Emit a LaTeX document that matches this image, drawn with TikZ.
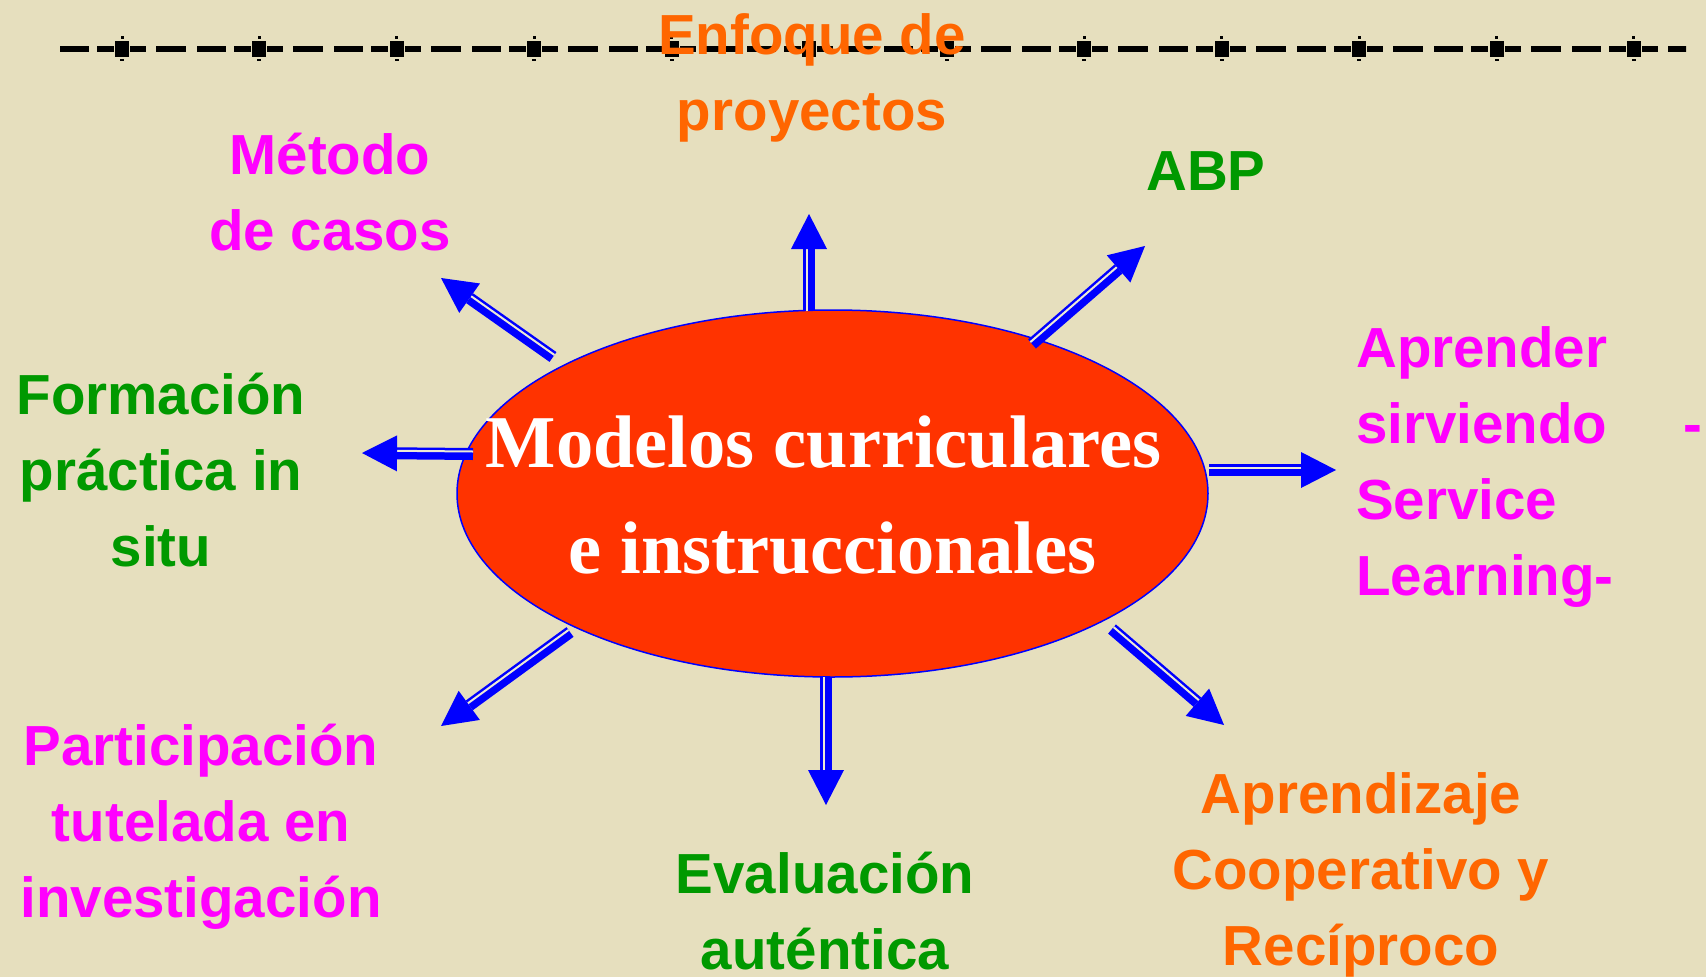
\documentclass[tikz,border=0pt]{standalone}
\usepackage{fontspec}
\setmainfont{Liberation Serif}
\setsansfont{Liberation Sans}
\usetikzlibrary{shapes.geometric,calc}
\definecolor{bgc}{RGB}{230,223,190}
\definecolor{ellred}{RGB}{255,51,0}
\definecolor{arrblue}{RGB}{0,0,255}
\definecolor{stripecol}{RGB}{236,233,214}
\definecolor{lblmag}{RGB}{255,0,255}
\definecolor{lblgreen}{RGB}{0,153,0}
\definecolor{lblorange}{RGB}{255,102,0}
\tikzset{
  shaft/.style={draw=arrblue, line width=12pt},
  shaftgap/.style={draw=stripecol, line width=2pt},
  lbl/.style={font=\sffamily\bfseries\fontsize{56.5}{76}\selectfont, inner sep=0pt, anchor=base},
  core/.style={ellipse, draw=arrblue, line width=1.5pt, fill=ellred,
    minimum width=751pt, minimum height=367pt, inner sep=0pt},
  coretext/.style={text=white, inner sep=0pt,
    font=\rmfamily\bfseries\fontsize{74.5}{106}\selectfont, align=center},
  railbar/.style={fill=black}
}
% #1 start coordinate, #2 tip coordinate, #3 side of the thin line (90 or 270)
\newcommand\dblarrow[3]{%
  \coordinate (hb) at ($(#2)!35pt!(#1)$);
  \draw[shaft] (#1) -- (hb);
  \draw[shaftgap] ($(#1)!2.5pt!#3:(hb)$) -- ($(hb)!2.5pt!-#3:(#1)$);
  \fill[arrblue] (#2) -- ($(hb)!18pt!90:(#2)$) -- ($(hb)!18pt!-90:(#2)$) -- cycle;
}
\begin{document}
\begin{tikzpicture}[x=1pt,y=-1pt]
\useasboundingbox (0,0) rectangle (1706,977);
\fill[bgc] (0,0) rectangle (1706,977);

% top decorative rail line
\begin{scope}
  \clip (57,30) rectangle (1686,70);
  \foreach \k in {-1,...,12} {
    \pgfmathsetmacro\c{122+137.45*\k}
    \fill[railbar] (\c-7,41) rectangle (\c+7,57);
    \fill[railbar] (\c-1.5,36) rectangle (\c+1.5,38.5);
    \fill[railbar] (\c-2,58.5) rectangle (\c+2,60.5);
    \fill[railbar] (\c+8,46) rectangle (\c+24,52);
    \fill[railbar] (\c+34,46) rectangle (\c+64,52);
    \fill[railbar] (\c+75,46) rectangle (\c+104,52);
    \fill[railbar] (\c+112,46) rectangle (\c+129,52);
  }
\end{scope}

% central ellipse and its text
\node[core] (centro) at (832.5,493.5) {};
\node[coretext] (titulo) at (832.5,495) {Modelos curriculares\rule{18pt}{0pt}\\e instruccionales};

% labels
\node[lbl, text=lblorange] (enfoque) at (812,54) {\begin{tabular}[t]{@{}c@{}}Enfoque de\\proyectos\end{tabular}};
\node[lbl, text=lblmag] (metodo) at (330,174) {\begin{tabular}[t]{@{}c@{}}Método\\de casos\end{tabular}};
\node[lbl, text=lblgreen] (abp) at (1206,190) {ABP};
\node[lbl, text=lblgreen] (formacion) at (161,414) {\begin{tabular}[t]{@{}c@{}}Formación\\práctica in\\situ\end{tabular}};
\node[lbl, text=lblmag, anchor=base west] (aprender) at (1356,367) {\begin{tabular}[t]{@{}l@{}}Aprender\\sirviendo\rlap{\hspace{76pt}-}\\Service\\Learning-\end{tabular}};
\node[lbl, text=lblmag] (participacion) at (201,765) {\begin{tabular}[t]{@{}c@{}}Participación\\tutelada en\\investigación\end{tabular}};
\node[lbl, text=lblgreen] (evaluacion) at (825,893) {\begin{tabular}[t]{@{}c@{}}Evaluación\\auténtica\end{tabular}};
\node[lbl, text=lblorange] (aprendizaje) at (1361,813) {\begin{tabular}[t]{@{}c@{}}Aprendizaje\\Cooperativo y\\Recíproco\end{tabular}};

% arrow end points
\coordinate (sUp) at (809,311);   \coordinate (tUp) at (809,214);
\coordinate (sMet) at (553,357);  \coordinate (tMet) at (441,278);
\coordinate (sAbp) at (1032,344); \coordinate (tAbp) at (1145,246);
\coordinate (sRig) at (1209,470); \coordinate (tRig) at (1336,470);
\coordinate (sLef) at (473,454);  \coordinate (tLef) at (362,453);
\coordinate (sLL) at (570,632);   \coordinate (tLL) at (441,726);
\coordinate (sDn) at (826,677);   \coordinate (tDn) at (826,805);
\coordinate (sLR) at (1112,629);  \coordinate (tLR) at (1224,725);

\dblarrow{sUp}{tUp}{90}
\dblarrow{sMet}{tMet}{270}
\dblarrow{sAbp}{tAbp}{90}
\dblarrow{sRig}{tRig}{90}
\dblarrow{sLef}{tLef}{270}
\dblarrow{sLL}{tLL}{270}
\dblarrow{sDn}{tDn}{270}
\dblarrow{sLR}{tLR}{90}
\end{tikzpicture}
\end{document}
